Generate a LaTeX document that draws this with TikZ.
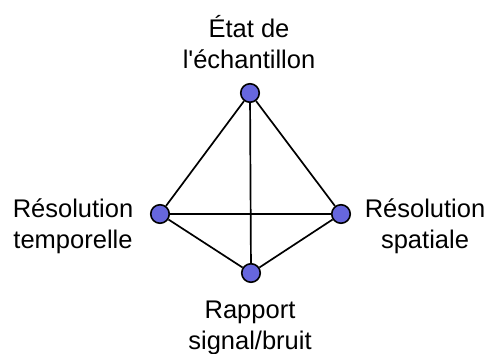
\documentclass[tikz,border=0pt]{standalone}
\usepackage{fontspec}
\setmainfont{Liberation Sans}
\definecolor{vertexblue}{RGB}{102,102,221}
\begin{document}
\begin{tikzpicture}[x=1pt,y=-1pt]
    \useasboundingbox (0,0) rectangle (489,353);
    \begin{scope}[shift={(0,0)}]
        \begin{scope}[every node/.style={circle, fill=vertexblue, draw, line width=1.6pt, minimum size = 18.5pt, inner sep=0pt}]
            \node (etat) at (250,93) {};
            \node (temps) at (160,214) {};
            \node (espace) at (341,214) {};
            \node (snr) at (251,273) {};
        \end{scope}

        \begin{scope}[every edge/.style={draw, line width=1.7pt}]
            \path [-] (etat) edge (temps);
            \path [-] (etat) edge (espace);
            \path [-] (etat) edge (snr);
            \path [-] (temps) edge (espace);
            \path [-] (temps) edge (snr);
            \path [-] (espace) edge (snr);

        \end{scope}

        \begin{scope}[every node/.style={align=center, inner sep=0pt, anchor=base, font=\fontsize{25.5}{31}\selectfont}]
            \node (etatlabel) at (249,68) {État de\\l\textquotesingle échantillon};
            \node (tempslabel) at (73,248) {Résolution\\temporelle};
            \node (espacelabel) at (425,248) {Résolution\\spatiale};
            \node (snrlabel) at (250,349) {Rapport\\signal/bruit};
        \end{scope}
    \end{scope}
\end{tikzpicture}
\end{document}
